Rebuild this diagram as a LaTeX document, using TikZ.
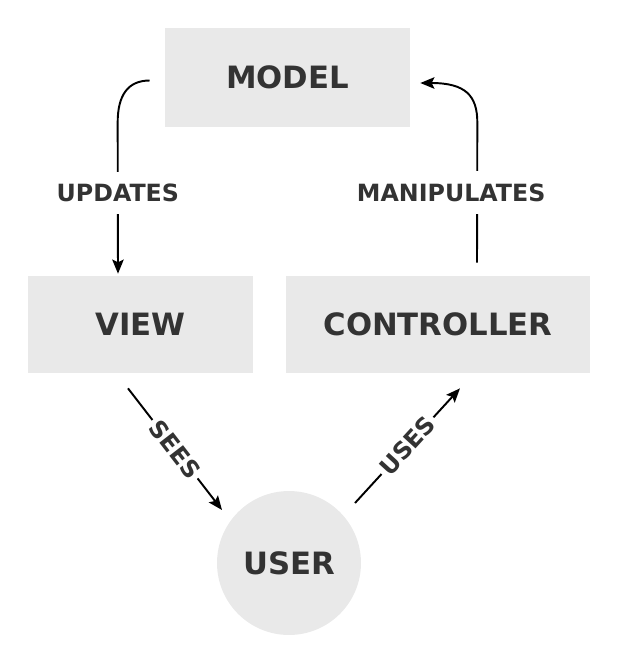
\documentclass[tikz,border=0pt]{standalone}
\usepackage{fontspec}
\setmainfont{DejaVu Sans}
\usepackage{xcolor}
\usepackage{tikz}
\usetikzlibrary{arrows.meta, calc}

\definecolor{boxgray}{HTML}{E9E9E9}
\definecolor{textgray}{HTML}{333333}

\begin{document}
\begin{tikzpicture}[
  x=0.02cm, y=-0.02cm,
  box/.style={rectangle, fill=boxgray, inner sep=0pt,
              minimum height=1.94cm, text=textgray,
              font=\fontsize{17.5}{21}\selectfont\bfseries},
  actor/.style={circle, fill=boxgray, inner sep=0pt, minimum size=2.88cm,
              text=textgray, font=\fontsize{17.5}{21}\selectfont\bfseries},
  elabel/.style={fill=white, inner xsep=2pt, inner ysep=7pt, text=textgray,
              font=\fontsize{13.5}{16}\selectfont\bfseries},
  flow/.style={line width=1.1pt, draw=black,
              -{Stealth[length=8pt, width=6.5pt, inset=1.5pt]}}
]
\useasboundingbox (0,0) rectangle (617,660);

% ── MVC nodes ──
\node[box, minimum width=4.9cm, minimum height=1.98cm] (model) at (287.5,77.5) {MODEL};
\node[box, minimum width=4.5cm]  (view)       at (140.5,324.5) {VIEW};
\node[box, minimum width=6.08cm] (controller) at (438,324.5)   {CONTROLLER};
\node[actor] (user) at (289,563) {USER};

% ── Top arrows (curved at the model) ──
\draw[flow] ([shift={(-15,3)}]model.west)
  .. controls ([shift={(-37,3)}]model.west) and ([shift={(-47,18)}]model.west)
  .. ([shift={(-47,45)}]model.west)
  -- node[elabel, pos=0.465] {UPDATES} ([shift={(-22.5,-2)}]view.north);
\draw[flow] ([shift={(39,-13)}]controller.north)
  -- node[elabel, pos=0.5, xshift=-0.52cm] {MANIPULATES} ([shift={(67,45)}]model.east)
  .. controls ([shift={(67,18)}]model.east) and ([shift={(55,5.5)}]model.east)
  .. ([shift={(10,5.5)}]model.east);

% ── Bottom arrows (to and from the user) ──
\draw[flow] ([shift={(-12.5,15)}]view.south)
  -- node[elabel, sloped] {SEES} ([shift={(-67,-53)}]user.center);
\draw[flow] ([shift={(66,-60)}]user.center)
  -- node[elabel, sloped] {USES} ([shift={(22,15)}]controller.south);
\end{tikzpicture}
\end{document}
